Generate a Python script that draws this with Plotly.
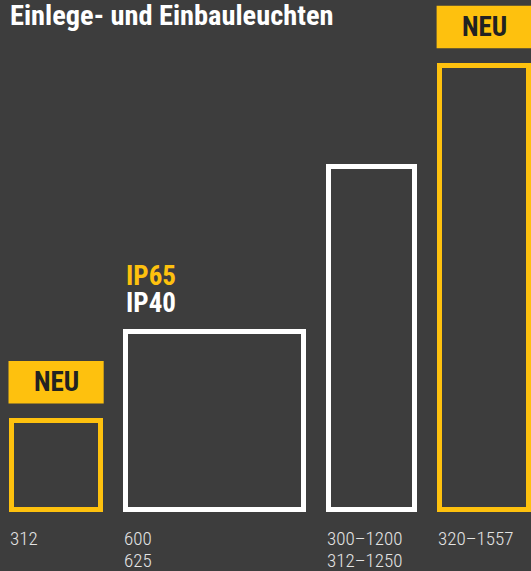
import plotly.graph_objects as go

# ---- data ----
categories = ["312", "600<br>625", "300–1200<br>312–1250", "320–1557"]
widths = [300, 600, 288, 300]
heights = [300, 600, 1153, 1495]
badges = ["NEU", "", "", "NEU"]
ip_labels = ["", "IP65|IP40", "", ""]
title_text = "Einlege- und Einbauleuchten"

# ---- style ----
BG = "#3d3d3d"
YEL = "#FEC10E"
WHITE = "#FFFFFF"
colors = [YEL, WHITE, WHITE, YEL]
GAP = 84
S = 0.2973          # px per data unit
PX = 1 / S          # data units per px
W, H = 531, 571
COND = "Roboto Condensed, Liberation Sans Narrow, DejaVu Sans Condensed, Roboto, sans-serif"

lefts = []
pos = 0
for w in widths:
    lefts.append(pos)
    pos += w + GAP
centers = [l + w / 2 for l, w in zip(lefts, widths)]

x0 = -11.5 * PX
y0 = -(H - 510.2) * PX

fig = go.Figure()
fig.add_trace(go.Bar(
    x=centers, y=heights, width=widths, base=0,
    marker=dict(color="rgba(0,0,0,0)", line=dict(color=colors, width=5)),
    hoverinfo="skip", showlegend=False,
))

annotations = []
shapes = []
for i, (cat, l, w, h) in enumerate(zip(categories, lefts, widths, heights)):
    for j, line in enumerate(cat.split("<br>")):
        annotations.append(dict(
            x=l, y=0, xref="x", yref="y", xanchor="left", yanchor="middle",
            text=line, showarrow=False, align="left",
            xshift=-4, yshift=-(28.2 + 21.8 * j),
            font=dict(family=COND, size=19, color="#e4e4e4", weight=300),
        ))
    if badges[i]:
        shapes.append(dict(
            type="rect", xref="x", yref="y",
            x0=l - 3 * PX, x1=l + w + 3 * PX,
            y0=h + 17.5 * PX, y1=h + 60 * PX,
            fillcolor=YEL, line=dict(width=0), layer="above",
        ))
        annotations.append(dict(
            x=l + w / 2, y=h + 39 * PX, xref="x", yref="y",
            xanchor="center", yanchor="middle", text="<b>%s</b>" % badges[i],
            showarrow=False, font=dict(family=COND, size=27, color="#222222"),
        ))
    if ip_labels[i]:
        a, b = ip_labels[i].split("|")
        for txt, col, dy in ((a, YEL, 55.4), (b, WHITE, 28.9)):
            annotations.append(dict(
                x=l, y=h, xref="x", yref="y", xanchor="left", yanchor="middle",
                xshift=-2, yshift=dy, showarrow=False, align="left",
                text="<b>%s</b>" % txt,
                font=dict(family=COND, size=27, color=col),
            ))

annotations.append(dict(
    x=0, y=1, xref="paper", yref="paper", xanchor="left", yanchor="middle",
    xshift=8, yshift=-15.5, showarrow=False, text="<b>%s</b>" % title_text,
    font=dict(family=COND, size=28.4, color=WHITE),
))

fig.update_layout(
    width=W, height=H, margin=dict(l=0, r=0, t=0, b=0),
    paper_bgcolor=BG, plot_bgcolor=BG,
    xaxis=dict(range=[x0, x0 + W * PX], visible=False, fixedrange=True),
    yaxis=dict(range=[y0, y0 + H * PX], visible=False, fixedrange=True),
    annotations=annotations, shapes=shapes, bargap=0,
)

fig.write_html("out.html", config={"displayModeBar": False},
               post_script="document.body.style.margin='0';")
